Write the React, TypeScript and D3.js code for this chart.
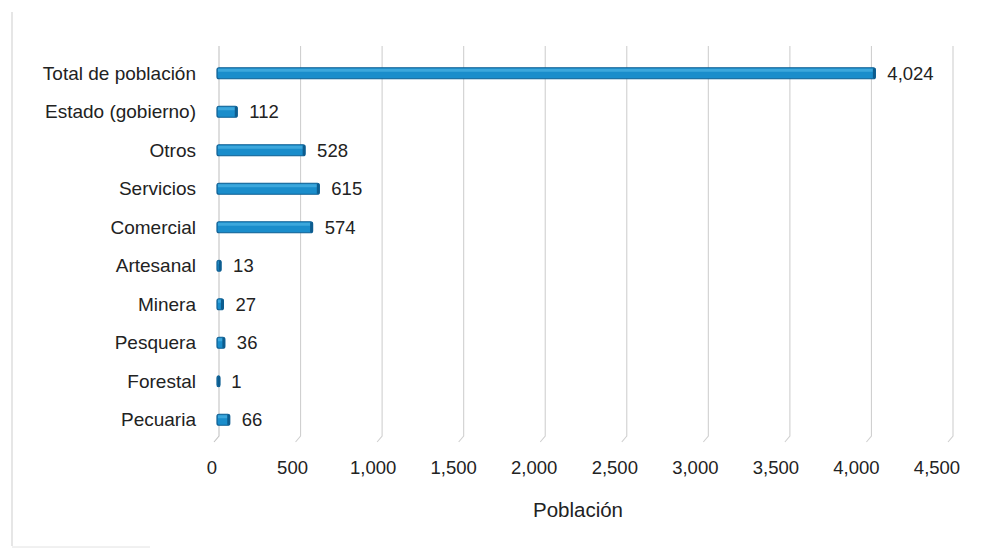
import React from "react";
import * as d3 from "d3";

const categories = [
  "Total de población",
  "Estado (gobierno)",
  "Otros",
  "Servicios",
  "Comercial",
  "Artesanal",
  "Minera",
  "Pesquera",
  "Forestal",
  "Pecuaria",
];
const values = [4024, 112, 528, 615, 574, 13, 27, 36, 1, 66];
const tickValues = [0, 500, 1000, 1500, 2000, 2500, 3000, 3500, 4000, 4500];
const axisTitle = "Población";

const W = 1004;
const H = 551;
const FONT = "'Liberation Sans', Arial, sans-serif";

export default function App() {
  // back-wall scale (bars and gridlines)
  const x = d3.scaleLinear().domain([0, 4500]).range([219, 953]);
  // front-floor scale (tick labels, slightly shifted by 3D perspective)
  const xFront = d3.scaleLinear().domain([0, 4500]).range([212, 937]);
  const y = d3.scaleBand<string>().domain(categories).range([54, 439]).padding(0);
  const fmt = d3.format(",");
  const barH = 11;
  const gridTop = 46;
  const gridBottom = 436;

  return (
    <svg
      width={W}
      height={H}
      style={{ position: "absolute", left: 0, top: 0, background: "#fff" }}
    >
      {/* faint page border */}
      <line x1={12} x2={12} y1={12} y2={546} stroke="#d6d6d6" strokeWidth={1.2} />
      <line x1={12} x2={150} y1={547} y2={547} stroke="#e2e2e2" strokeWidth={1} />

      {/* gridlines with perspective foot */}
      {tickValues.map((t) => (
        <path
          key={"g" + t}
          d={`M${x(t)},${gridTop} L${x(t)},${gridBottom} L${x(t) - 5},${gridBottom + 6}`}
          fill="none"
          stroke={t === 0 ? "#c4c4c4" : "#d0d0d0"}
          strokeWidth={1.1}
        />
      ))}

      {/* bars */}
      {categories.map((c, i) => {
        const v = values[i];
        const cy = (y(c) as number) + y.bandwidth() / 2;
        const x0 = x(0) - 2;
        const x1 = Math.max(x(v), x0 + 3);
        const w = x1 - x0;
        return (
          <g key={c}>
            <rect
              x={x0}
              y={cy - barH / 2}
              width={w}
              height={barH}
              rx={2}
              fill="#1a8dcb"
              stroke="#0e5f93"
              strokeWidth={1.2}
            />
            <rect
              x={x0 + 1}
              y={cy - barH / 2 + 1}
              width={Math.max(w - 3, 0.5)}
              height={3}
              fill="#45aee0"
              opacity={0.8}
            />
            <rect
              x={x1 - 2.5}
              y={cy - barH / 2 + 0.5}
              width={2.5}
              height={barH - 1}
              fill="#0d5c8e"
            />
            <text
              x={x(v) + 12}
              y={cy + 6.5}
              fontFamily={FONT}
              fontSize={18.5}
              fill="#222"
            >
              {fmt(v)}
            </text>
          </g>
        );
      })}

      {/* category labels */}
      {categories.map((c) => {
        const cy = (y(c) as number) + y.bandwidth() / 2;
        return (
          <text
            key={"l" + c}
            x={196}
            y={cy + 6.5}
            textAnchor="end"
            fontFamily={FONT}
            fontSize={19}
            fill="#222"
          >
            {c}
          </text>
        );
      })}

      {/* tick labels */}
      {tickValues.map((t) => (
        <text
          key={"t" + t}
          x={xFront(t)}
          y={474}
          textAnchor="middle"
          fontFamily={FONT}
          fontSize={18.5}
          fill="#222"
        >
          {fmt(t)}
        </text>
      ))}

      <text
        x={578}
        y={517}
        textAnchor="middle"
        fontFamily={FONT}
        fontSize={20.5}
        fill="#222"
      >
        {axisTitle}
      </text>
    </svg>
  );
}
